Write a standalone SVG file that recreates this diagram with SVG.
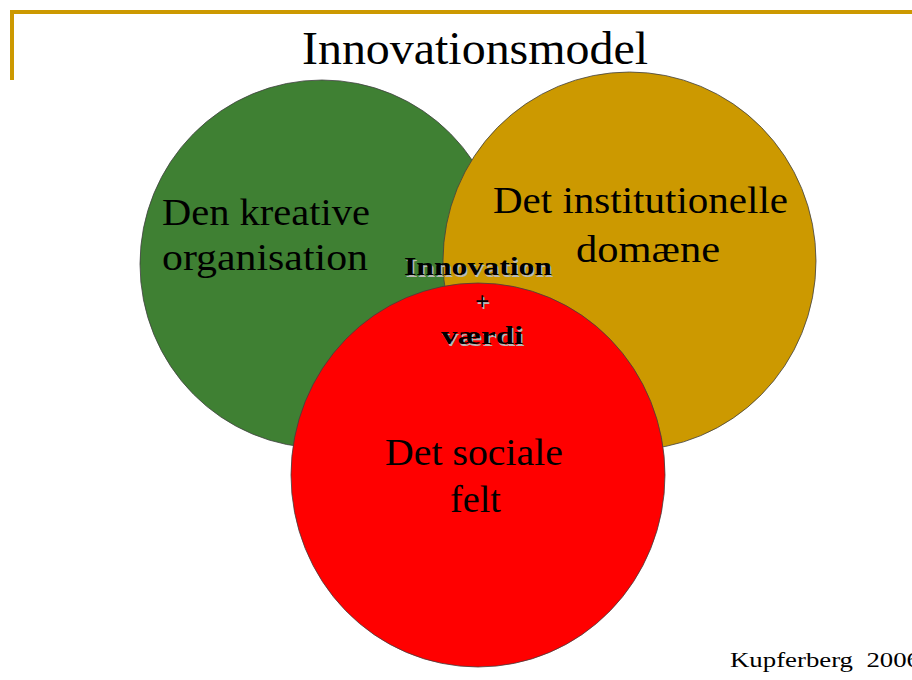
<svg xmlns="http://www.w3.org/2000/svg" width="912" height="680" viewBox="0 0 912 680">
<style>
.t{font-family:"Liberation Serif","DejaVu Serif",serif;fill:#000}
.lbl{font-size:38px}
.c{stroke:#404040;stroke-width:0.8}
.iv{font-family:"Liberation Serif","DejaVu Serif",serif;font-weight:bold;font-size:25px;text-anchor:middle}
</style>
<rect width="912" height="680" fill="#fff"/>
<g id="frame" fill="#CC9900">
<rect x="10" y="10" width="902" height="4"/>
<rect x="10" y="10" width="4" height="70"/>
</g>
<text id="title" class="t" x="475" y="64" font-size="46" text-anchor="middle" textLength="346" lengthAdjust="spacingAndGlyphs">Innovationsmodel</text>
<g id="connectors"></g>
<g id="green-circle">
<ellipse class="c" cx="322" cy="264" rx="182" ry="184" fill="#3F8033"/>
<text class="t lbl" x="162" y="225" textLength="208" lengthAdjust="spacingAndGlyphs">Den kreative</text>
<text class="t lbl" x="162" y="270" textLength="206" lengthAdjust="spacingAndGlyphs">organisation</text>
</g>
<g id="gold-circle">
<ellipse class="c" cx="629.5" cy="261" rx="186.5" ry="189" fill="#CC9900"/>
<text class="t lbl" x="493" y="213" textLength="295" lengthAdjust="spacingAndGlyphs">Det institutionelle</text>
<text class="t lbl" x="576" y="262" textLength="144" lengthAdjust="spacingAndGlyphs">domæne</text>
</g>
<g id="red-circle">
<ellipse class="c" cx="478" cy="475" rx="187" ry="192" fill="#FF0000"/>
<text class="t lbl" x="385" y="465" textLength="178" lengthAdjust="spacingAndGlyphs">Det sociale</text>
<text class="t lbl" x="450" y="512" textLength="51" lengthAdjust="spacingAndGlyphs">felt</text>
</g>
<g id="center-label">
<g fill="#B8B8B8" transform="translate(1.5,1.5)">
<text class="iv" x="478" y="275" textLength="148" lengthAdjust="spacingAndGlyphs">Innovation</text>
<text class="iv" x="482" y="310">+</text>
<text class="iv" x="482" y="344" textLength="82" lengthAdjust="spacingAndGlyphs">værdi</text>
</g>
<g fill="#000">
<text class="iv" x="478" y="275" textLength="148" lengthAdjust="spacingAndGlyphs">Innovation</text>
<text class="iv" x="482" y="310" font-weight="normal">+</text>
<text class="iv" x="482" y="344" textLength="82" lengthAdjust="spacingAndGlyphs">værdi</text>
</g>
</g>
<text id="credit" class="t" x="730" y="667" font-size="22" xml:space="preserve" textLength="190" lengthAdjust="spacingAndGlyphs">Kupferberg  2006</text>
</svg>
